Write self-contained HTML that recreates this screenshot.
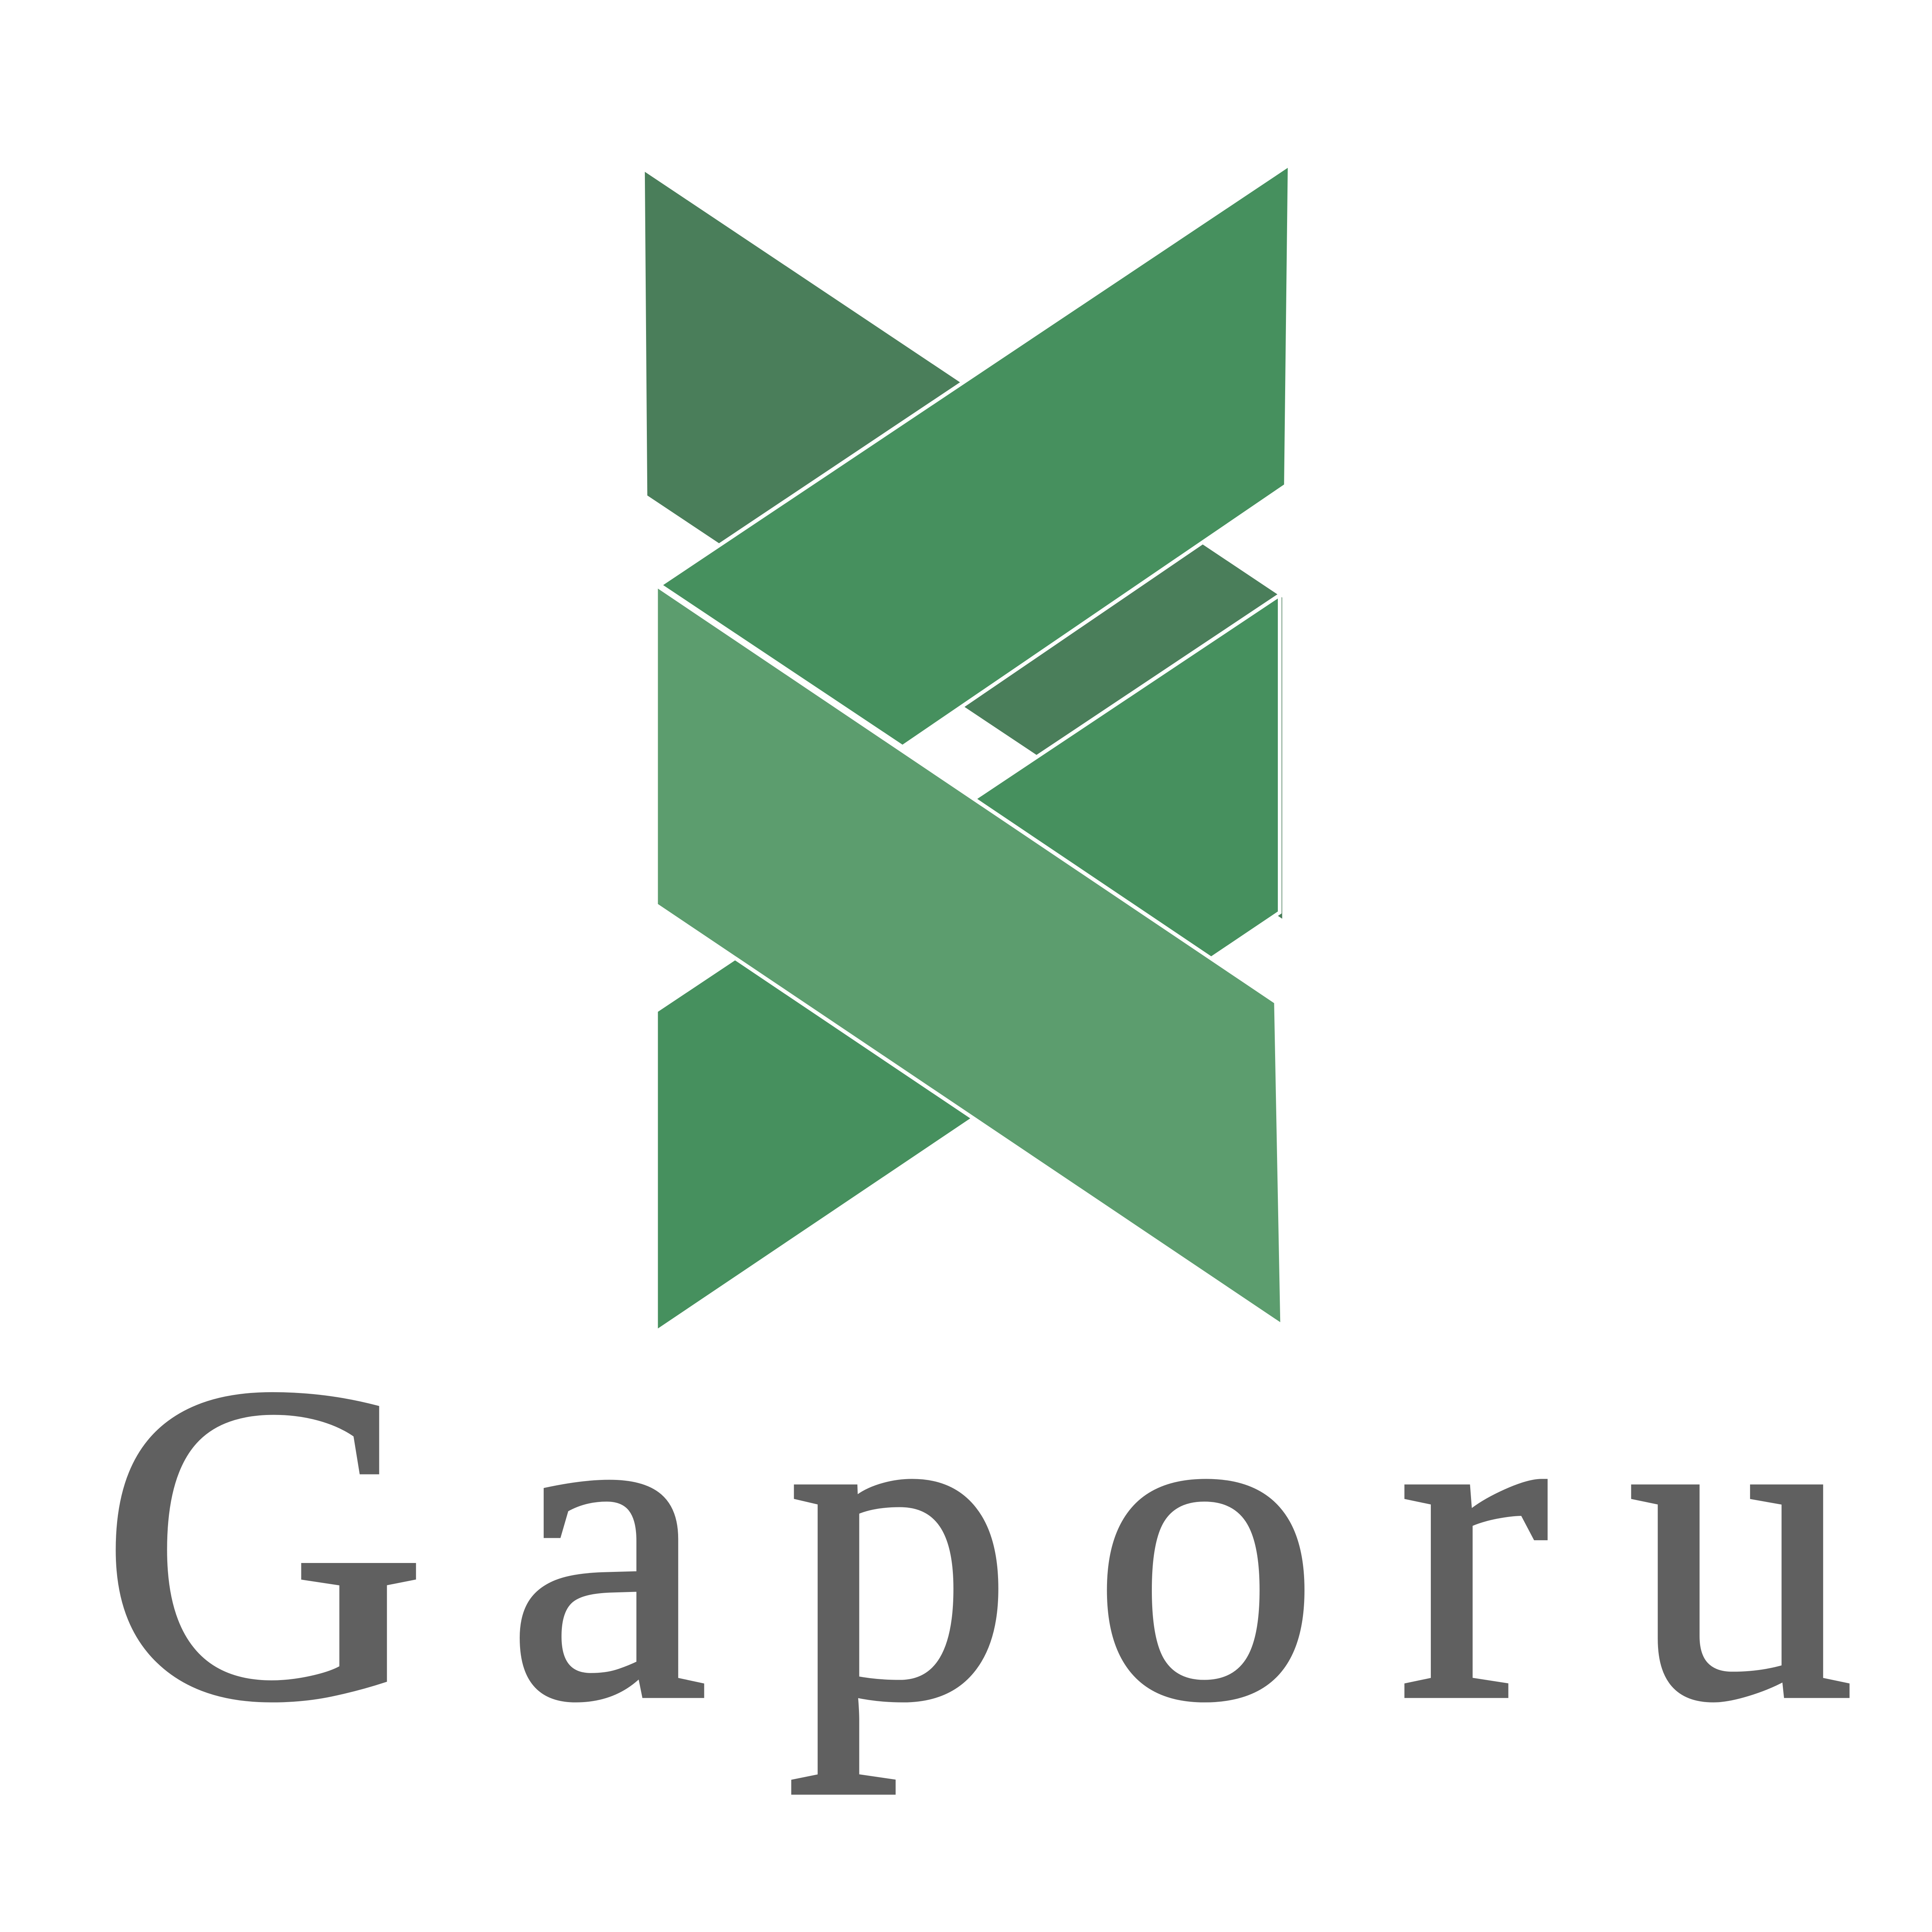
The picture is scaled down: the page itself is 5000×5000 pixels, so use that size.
<!DOCTYPE html>
<html>
<head>
<meta charset="utf-8">
<style>
  html,body{margin:0;padding:0;background:#fff;}
  svg{display:block;}
</style>
</head>
<body>
<svg width="5000" height="5000" viewBox="0 0 1552 1552" xmlns="http://www.w3.org/2000/svg">
  <rect width="1552" height="1552" fill="#ffffff"/>
  <g>
    <polygon points="518,138 1030,480 1030,738 520,398" fill="#4a7e5a"/>
    <polygon points="1028,478 1028,733 527,1070 527,812" fill="#46905e" stroke="#ffffff" stroke-width="3"/>
    <polygon points="1036,132 1033,390 725,600 530,470" fill="#46905e" stroke="#ffffff" stroke-width="3"/>
    <polygon points="527,470 1025,805 1030,1065 527,727" fill="#5c9d6e" stroke="#ffffff" stroke-width="3"/>
  </g>
  <text x="80" y="1362" textLength="1410" lengthAdjust="spacing" font-family="'Liberation Serif', serif" font-size="365" fill="#606060" stroke="#606060" stroke-width="4">Gaporu</text>
</svg>
</body>
</html>
